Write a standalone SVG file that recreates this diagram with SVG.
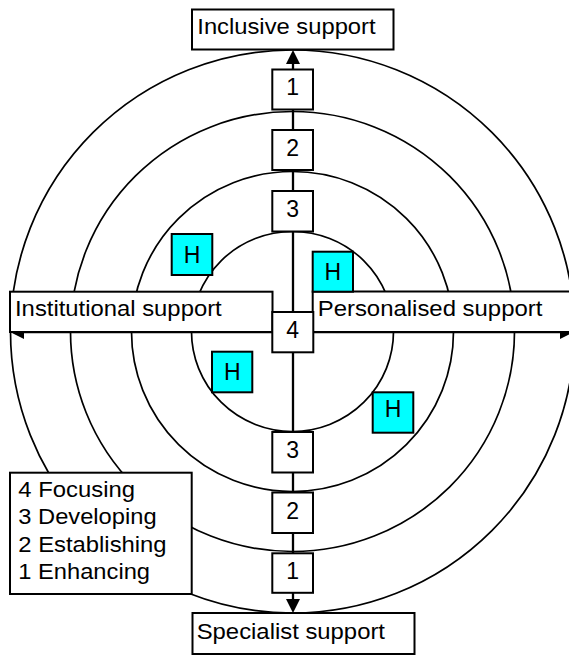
<svg xmlns="http://www.w3.org/2000/svg" width="569" height="656" viewBox="0 0 569 656">
<defs>
<style>
.ring{fill:none;stroke:#000;stroke-width:1.7}
.box{fill:#fff;stroke:#000;stroke-width:2}
.hbox{fill:#00ffff;stroke:#000;stroke-width:2}
.axis{fill:none;stroke:#000;stroke-width:2.3}
text{font-family:"Liberation Sans",Arial,Helvetica,sans-serif;font-size:22px;fill:#000}
.num{text-anchor:middle;font-size:23px}
.h{text-anchor:middle;font-size:23px}
</style>
<marker id="arr" viewBox="0 0 14 14" markerUnits="userSpaceOnUse" markerWidth="14" markerHeight="14" refX="10" refY="7" orient="auto-start-reverse">
<path d="M0,0 L14,7 L0,14 z" fill="#000"/>
</marker>
</defs>
<rect width="569" height="656" fill="#fff"/>
<g id="rings">
<ellipse class="ring" cx="292.5" cy="331.5" rx="282" ry="281.5"/>
<ellipse class="ring" cx="292.5" cy="331.5" rx="222" ry="220"/>
<ellipse class="ring" cx="292.5" cy="331.5" rx="161" ry="160"/>
<ellipse class="ring" cx="292.5" cy="331.5" rx="101" ry="100"/>
</g>
<g id="connectors">
<line class="axis" x1="293" y1="54" x2="293" y2="609" marker-start="url(#arr)" marker-end="url(#arr)"/>
<line class="axis" x1="14" y1="332" x2="570" y2="332" marker-start="url(#arr)" marker-end="url(#arr)"/>
</g>
<g id="inclusive">
<rect class="box" x="192" y="9.5" width="201.5" height="40"/>
<text x="197.3" y="33.5" textLength="178.3" lengthAdjust="spacingAndGlyphs">Inclusive support</text>
</g>
<g id="specialist">
<rect class="box" x="192.5" y="613" width="222" height="41"/>
<text x="196.7" y="639" textLength="188.3" lengthAdjust="spacingAndGlyphs">Specialist support</text>
</g>
<g id="institutional">
<rect class="box" x="10" y="291.7" width="262.5" height="40.3"/>
<text x="15" y="316" textLength="206.7" lengthAdjust="spacingAndGlyphs">Institutional support</text>
</g>
<g id="personalised">
<rect class="box" x="312.7" y="291.5" width="270" height="40.5"/>
<text x="317.7" y="315.7" textLength="224.7" lengthAdjust="spacingAndGlyphs">Personalised support</text>
</g>
<g id="level1-top">
<rect class="box" x="272.3" y="69.5" width="40.7" height="40"/>
<text class="num" x="292.7" y="94.5">1</text>
</g>
<g id="level2-top">
<rect class="box" x="272.3" y="130" width="40.7" height="40"/>
<text class="num" x="292.7" y="155.5">2</text>
</g>
<g id="level3-top">
<rect class="box" x="272.3" y="191" width="40.7" height="40.5"/>
<text class="num" x="292.7" y="216.5">3</text>
</g>
<g id="level4">
<rect class="box" x="272.3" y="312" width="41" height="40.3"/>
<text class="num" x="292.7" y="338">4</text>
</g>
<g id="level3-bottom">
<rect class="box" x="272.3" y="432" width="40.7" height="40.5"/>
<text class="num" x="292.7" y="458">3</text>
</g>
<g id="level2-bottom">
<rect class="box" x="272.3" y="492.5" width="40.7" height="40.5"/>
<text class="num" x="292.7" y="518.5">2</text>
</g>
<g id="level1-bottom">
<rect class="box" x="272.3" y="553.3" width="40.7" height="39.5"/>
<text class="num" x="292.7" y="579">1</text>
</g>
<g id="h1">
<rect class="hbox" x="171.7" y="234" width="40.6" height="41"/>
<text class="h" x="192" y="262.5">H</text>
</g>
<g id="h2">
<rect class="hbox" x="312.7" y="251.7" width="40.3" height="40"/>
<text class="h" x="332.8" y="280">H</text>
</g>
<g id="h3">
<rect class="hbox" x="212" y="351.7" width="40.3" height="40.6"/>
<text class="h" x="232.2" y="380">H</text>
</g>
<g id="h4">
<rect class="hbox" x="372.7" y="392.3" width="40.6" height="40.4"/>
<text class="h" x="393" y="417.3">H</text>
</g>
<g id="legend">
<rect class="box" x="10" y="472.7" width="181.7" height="121.3"/>
<text x="18.3" y="496.5" textLength="116.7" lengthAdjust="spacingAndGlyphs">4 Focusing</text>
<text x="18.3" y="524" textLength="138.3" lengthAdjust="spacingAndGlyphs">3 Developing</text>
<text x="18.3" y="551.5" textLength="148.3" lengthAdjust="spacingAndGlyphs">2 Establishing</text>
<text x="18.3" y="578.5" textLength="131.7" lengthAdjust="spacingAndGlyphs">1 Enhancing</text>
</g>
</svg>
